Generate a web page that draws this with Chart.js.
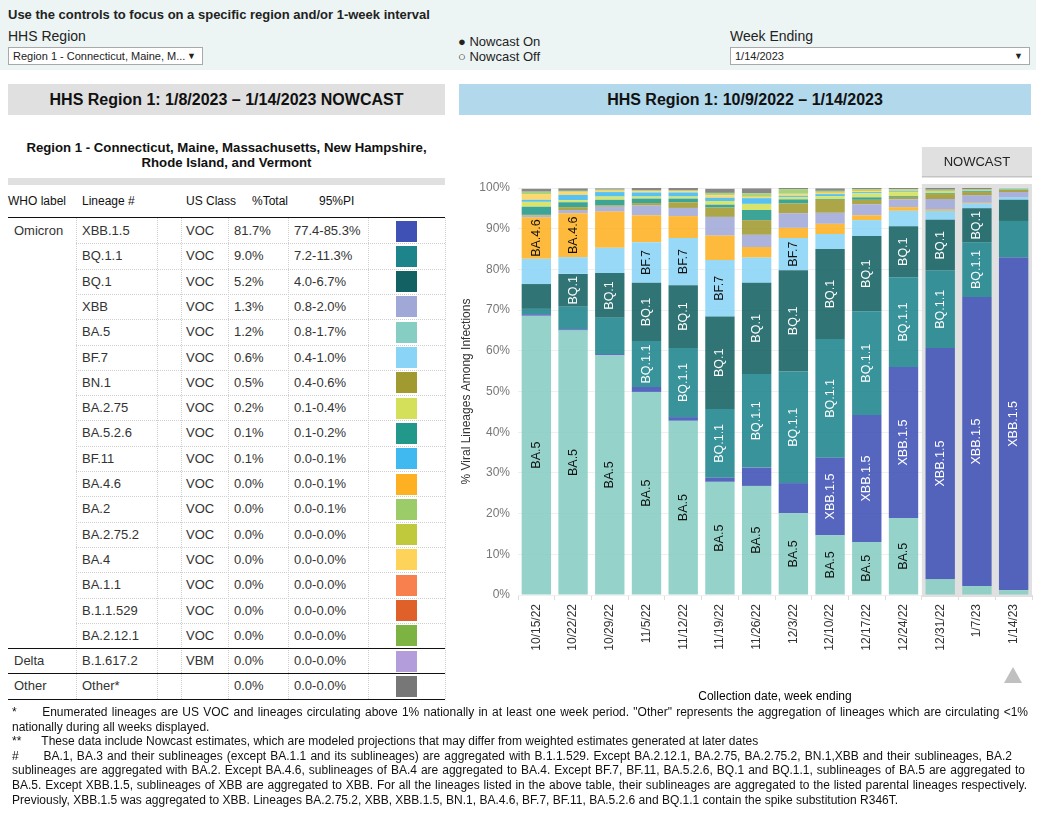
<!DOCTYPE html>
<html>
<head>
<meta charset="utf-8">
<script src="https://cdn.jsdelivr.net/npm/chart.js@4.4.0/dist/chart.umd.min.js"></script>
<style>
body{margin:0;width:1041px;height:814px;position:relative;background:#fff;font-family:Arial,"Liberation Sans",sans-serif;color:#333;overflow:hidden}
.abs{position:absolute;white-space:nowrap}
#controls{position:absolute;left:0;top:0;width:1036px;height:70px;background:#edf5f4}
.dd{position:absolute;height:18px;border:1px solid #a9a9a9;background:#fff;font-size:11px;line-height:16px;padding-left:4px;box-sizing:border-box;color:#222}
.dd span{position:absolute;right:6px;top:0;font-size:9px}
.hdr{position:absolute;top:84px;height:31px;line-height:31px;text-align:center;font-weight:bold;font-size:16px;color:#111}
.cell{position:absolute;font-size:13px;color:#333;line-height:25px;white-space:nowrap}
.vline{position:absolute;width:0;border-left:1px dotted #cfcfcf}
.hline{position:absolute;height:0;border-top:1px dotted #cfcfcf}
.bline{position:absolute;height:1px;background:#111;left:8px;width:437px}
#notes{position:absolute;left:12px;top:705px;font-size:12px;line-height:14.6px;color:#111}
#notes div{white-space:nowrap;height:14.6px}
#notes div.j{text-align:justify;text-align-last:justify;white-space:normal;overflow:hidden}
</style>
</head>
<body>
<div id="controls">
  <div class="abs" style="left:8px;top:7px;font-size:13px;font-weight:bold;color:#222">Use the controls to focus on a specific region and/or 1-week interval</div>
  <div class="abs" style="left:8px;top:28px;font-size:14px;color:#222">HHS Region</div>
  <div class="dd" style="left:8px;top:47px;width:195px">Region 1 - Connecticut, Maine, M...<span>&#9660;</span></div>
  <div class="abs" style="left:458px;top:34px;font-size:13px;color:#222">&#9679; Nowcast On</div>
  <div class="abs" style="left:458px;top:49px;font-size:13px;color:#222">&#9675; Nowcast Off</div>
  <div class="abs" style="left:730px;top:28px;font-size:14px;color:#222">Week Ending</div>
  <div class="dd" style="left:730px;top:47px;width:300px">1/14/2023<span>&#9660;</span></div>
</div>

<div class="hdr" style="left:8px;width:437px;background:#e0e0e0">HHS Region 1: 1/8/2023 &#8211; 1/14/2023 NOWCAST</div>
<div class="hdr" style="left:459px;width:572px;background:#b2d8ec">HHS Region 1: 10/9/2022 &#8211; 1/14/2023</div>

<div class="abs" style="left:8px;top:140px;width:437px;text-align:center;font-weight:bold;font-size:13.2px;line-height:15px;color:#111">Region 1 - Connecticut, Maine, Massachusetts, New Hampshire,<br>Rhode Island, and Vermont</div>
<div class="abs" style="left:8px;top:178px;width:437px;height:7px;background:#e0e0e0"></div>
<div id="table"></div>

<canvas id="myCanvas" width="583" height="570" style="position:absolute;left:455px;top:140px;width:583px;height:570px"></canvas>
<div class="abs" style="left:1004px;top:667px;width:0;height:0;border-left:9px solid transparent;border-right:9px solid transparent;border-bottom:16px solid #c0c0c0"></div>

<div id="notes">
<div class="j" style="width:1016px">*&nbsp;&nbsp;&nbsp;&nbsp;&nbsp;&nbsp;Enumerated lineages are US VOC and lineages circulating above 1% nationally in at least one week period. "Other" represents the aggregation of lineages which are circulating &lt;1%</div>
<div>nationally during all weeks displayed.</div>
<div>**&nbsp;&nbsp;&nbsp;&nbsp;&nbsp;&nbsp;These data include Nowcast estimates, which are modeled projections that may differ from weighted estimates generated at later dates</div>
<div class="j" style="width:1000px">#&nbsp;&nbsp;&nbsp;&nbsp;&nbsp;&nbsp;BA.1, BA.3 and their sublineages (except BA.1.1 and its sublineages) are aggregated with B.1.1.529. Except BA.2.12.1, BA.2.75, BA.2.75.2, BN.1,XBB and their sublineages, BA.2</div>
<div class="j" style="width:1013px">sublineages are aggregated with BA.2. Except BA.4.6, sublineages of BA.4 are aggregated to BA.4. Except BF.7, BF.11, BA.5.2.6, BQ.1 and BQ.1.1, sublineages of BA.5 are aggregated to</div>
<div class="j" style="width:1015px">BA.5. Except XBB.1.5, sublineages of XBB are aggregated to XBB. For all the lineages listed in the above table, their sublineages are aggregated to the listed parental lineages respectively.</div>
<div>Previously, XBB.1.5 was aggregated to XBB. Lineages BA.2.75.2, XBB, XBB.1.5, BN.1, BA.4.6, BF.7, BF.11, BA.5.2.6 and BQ.1.1 contain the spike substitution R346T.</div>
</div>

<script>
// ---- table data (nowcast week 1/8/2023 - 1/14/2023) ----
var tWho      = ['Omicron','','','','','','','','','','','','','','','','','Delta','Other'];
var tLineage  = ['XBB.1.5','BQ.1.1','BQ.1','XBB','BA.5','BF.7','BN.1','BA.2.75','BA.5.2.6','BF.11','BA.4.6','BA.2','BA.2.75.2','BA.4','BA.1.1','B.1.1.529','BA.2.12.1','B.1.617.2','Other*'];
var tClass    = ['VOC','VOC','VOC','VOC','VOC','VOC','VOC','VOC','VOC','VOC','VOC','VOC','VOC','VOC','VOC','VOC','VOC','VBM',''];
var tTotal    = ['81.7%','9.0%','5.2%','1.3%','1.2%','0.6%','0.5%','0.2%','0.1%','0.1%','0.0%','0.0%','0.0%','0.0%','0.0%','0.0%','0.0%','0.0%','0.0%'];
var tPI       = ['77.4-85.3%','7.2-11.3%','4.0-6.7%','0.8-2.0%','0.8-1.7%','0.4-1.0%','0.4-0.6%','0.1-0.4%','0.1-0.2%','0.0-0.1%','0.0-0.1%','0.0-0.1%','0.0-0.0%','0.0-0.0%','0.0-0.0%','0.0-0.0%','0.0-0.0%','0.0-0.0%','0.0-0.0%'];

var colors = {
  'XBB.1.5':'#3f51b5','BQ.1.1':'#1e848c','BQ.1':'#146163','XBB':'#a0a8d8','BA.5':'#86cdc3',
  'BF.7':'#8ad4f7','BN.1':'#a09a30','BA.2.75':'#d4e05a','BA.5.2.6':'#22988a','BF.11':'#40b8f0',
  'BA.4.6':'#fdb022','BA.2':'#9ccc6a','BA.2.75.2':'#c0c83c','BA.4':'#fdd35a','BA.1.1':'#f8804e',
  'B.1.1.529':'#e0602a','BA.2.12.1':'#7cb342','B.1.617.2':'#b39ddb','Other':'#777777','Other*':'#777777'
};

// ---- chart data: weekly proportions (%) ----
var weeks   = ['10/15/22','10/22/22','10/29/22','11/5/22','11/12/22','11/19/22','11/26/22','12/3/22','12/10/22','12/17/22','12/24/22','12/31/22','1/7/23','1/14/23'];
var ba5     = [68.6, 65.0, 58.9, 49.9, 42.8, 27.8, 26.8, 20.1, 14.7, 13.0, 18.9, 3.9, 2.2, 1.2];
var xbb15   = [0.4, 0.3, 0.3, 1.2, 0.9, 1.0, 4.5, 7.4, 19.0, 31.2, 37.1, 56.8, 71.0, 81.7];
var bq11    = [1.3, 5.5, 8.9, 11.3, 17.0, 16.9, 23.0, 27.4, 29.2, 25.5, 22.1, 19.0, 13.5, 9.0];
var bq1     = [6.1, 8.1, 11.0, 14.3, 15.4, 22.7, 22.4, 24.9, 22.1, 18.5, 12.5, 12.5, 8.3, 5.2];
var bf7     = [6.2, 4.1, 6.2, 10.0, 11.6, 13.9, 6.2, 7.9, 3.7, 3.9, 3.8, 2.2, 1.2, 0.6];
var ba46    = [10.2, 10.8, 8.9, 6.6, 5.4, 6.0, 2.6, 2.5, 2.5, 1.2, 0.9, 0.3, 0.2, 0.0];
var xbb     = [0.4, 0.8, 1.2, 2.4, 2.0, 4.6, 3.0, 3.6, 2.7, 2.7, 1.9, 2.6, 1.8, 1.3];
var bn1     = [0.2, 0.7, 0.3, 0.6, 1.4, 2.3, 3.6, 2.4, 3.2, 1.1, 0.6, 1.2, 0.8, 0.5];
var ba526   = [2.0, 1.2, 1.4, 1.1, 0.9, 0.7, 2.5, 1.0, 0.2, 0.6, 0.2, 0.2, 0.2, 0.1];
var ba275   = [1.2, 0.5, 0.8, 0.5, 0.5, 0.9, 1.5, 0.6, 0.7, 1.0, 1.0, 0.5, 0.2, 0.2];
var bf11    = [0.5, 1.3, 1.1, 1.0, 1.0, 0.8, 1.4, 0.3, 0.5, 0.3, 0.2, 0.1, 0.1, 0.1];
var ba4     = [1.4, 0.7, 0.3, 0.3, 0.3, 0.6, 0.3, 0.3, 0.3, 0.2, 0.1, 0.0, 0.0, 0.0];
var ba2752  = [0.0, 0.1, 0.1, 0.1, 0.1, 0.1, 0.1, 0.2, 0.2, 0.3, 0.3, 0.2, 0.1, 0.0];
var ba2     = [0.6, 0.2, 0.2, 0.1, 0.1, 0.5, 0.8, 1.1, 0.3, 0.2, 0.1, 0.1, 0.1, 0.0];
var other   = [0.7, 0.6, 0.3, 0.6, 0.6, 1.0, 1.2, 0.3, 0.6, 0.3, 0.4, 0.4, 0.3, 0.0];
var yTicks  = [0, 10, 20, 30, 40, 50, 60, 70, 80, 90, 100];
var nowcastFrom = '12/31/22';

// stack order, bottom to top
var series = [
  ['BA.5', ba5], ['XBB.1.5', xbb15], ['BQ.1.1', bq11], ['BQ.1', bq1], ['BF.7', bf7],
  ['BA.4.6', ba46], ['XBB', xbb], ['BN.1', bn1], ['BA.5.2.6', ba526], ['BA.2.75', ba275],
  ['BF.11', bf11], ['BA.4', ba4], ['BA.2.75.2', ba2752], ['BA.2', ba2], ['Other', other]
];
var whiteText = ['XBB.1.5','BQ.1.1','BQ.1'];

// build the table
var tbl = document.getElementById('table');
var html = '';
var top0 = 218, rowH = 25.3;
var nRows = tLineage.length;
var xs = [76,157,181,228,288,368,445];
xs.forEach(function(x){
  html += '<div class="vline" style="left:'+x+'px;top:'+top0+'px;height:'+(nRows*rowH)+'px"></div>';
});
for (var i=0;i<nRows;i++){
  var y = top0 + i*rowH;
  if (i>0) html += '<div class="hline" style="left:76px;width:369px;top:'+y.toFixed(1)+'px"></div>';
  html += '<div class="cell" style="left:14px;top:'+y.toFixed(1)+'px">'+tWho[i]+'</div>';
  html += '<div class="cell" style="left:82px;top:'+y.toFixed(1)+'px">'+tLineage[i]+'</div>';
  html += '<div class="cell" style="left:186px;top:'+y.toFixed(1)+'px">'+tClass[i]+'</div>';
  html += '<div class="cell" style="left:234px;top:'+y.toFixed(1)+'px">'+tTotal[i]+'</div>';
  html += '<div class="cell" style="left:294px;top:'+y.toFixed(1)+'px">'+tPI[i]+'</div>';
  html += '<div style="position:absolute;left:396px;top:'+(y+2.5).toFixed(1)+'px;width:21px;height:21px;background:'+colors[tLineage[i]]+'"></div>';
}
html += '<div class="bline" style="top:217px"></div>';
html += '<div class="bline" style="top:'+(top0+17*rowH).toFixed(1)+'px"></div>';
html += '<div class="bline" style="top:'+(top0+18*rowH).toFixed(1)+'px"></div>';
html += '<div class="bline" style="top:'+(top0+19*rowH).toFixed(1)+'px"></div>';
// header
var hdrs = [['WHO label',8],['Lineage #',82],['US Class',186],['%Total',252],['95%PI',319]];
hdrs.forEach(function(h){
  html += '<div class="cell" style="left:'+h[1]+'px;top:189px;font-size:12px;color:#111">'+h[0]+'</div>';
});
tbl.innerHTML = html;

function alpha(hex, a){
  var r=parseInt(hex.substr(1,2),16), g=parseInt(hex.substr(3,2),16), b=parseInt(hex.substr(5,2),16);
  return 'rgba('+r+','+g+','+b+','+a+')';
}

var datasets = series.map(function(s){
  return {
    label: s[0],
    data: s[1],
    backgroundColor: alpha(colors[s[0]], 0.88),
    borderWidth: 0,
    barPercentage: 0.8,
    categoryPercentage: 1.0,
    labelColor: whiteText.indexOf(s[0]) >= 0 ? '#ffffff' : '#111111'
  };
});

// grey band + NOWCAST box behind the last weeks
var nowcastBand = {
  id: 'nowcastBand',
  beforeDatasetsDraw: function(chart){
    var x = chart.scales.x, a = chart.chartArea, ctx = chart.ctx;
    var idx = weeks.indexOf(nowcastFrom);
    var half = (x.getPixelForValue(1) - x.getPixelForValue(0)) / 2;
    var left = x.getPixelForValue(idx) - half, right = a.right;
    ctx.save();
    ctx.fillStyle = '#e0e0e0';
    ctx.fillRect(left, a.top - 4, right - left, a.bottom - a.top + 6);
    ctx.fillRect(left, a.top - 41, right - left, 30);
    ctx.fillStyle = '#c4c4c4';
    ctx.fillRect(left, a.top - 12, right - left, 1.5);
    ctx.fillStyle = '#222';
    ctx.font = '13px Arial';
    ctx.textAlign = 'center';
    ctx.textBaseline = 'middle';
    ctx.fillText('NOWCAST', (left + right) / 2, a.top - 26);
    ctx.restore();
  }
};

// lineage names written inside segments that are tall enough
var barLabels = {
  id: 'barLabels',
  afterDatasetsDraw: function(chart){
    var ctx = chart.ctx;
    ctx.save();
    ctx.font = '12.5px Arial';
    ctx.textAlign = 'center';
    ctx.textBaseline = 'middle';
    chart.data.datasets.forEach(function(ds, i){
      var meta = chart.getDatasetMeta(i);
      var w = ctx.measureText(ds.label).width;
      meta.data.forEach(function(bar){
        var h = bar.base - bar.y;
        if (h > w + 2) {
          ctx.save();
          ctx.translate(bar.x, (bar.y + bar.base) / 2);
          ctx.rotate(-Math.PI / 2);
          ctx.fillStyle = ds.labelColor;
          ctx.fillText(ds.label, 0, 0);
          ctx.restore();
        }
      });
    });
    ctx.restore();
  }
};

var myChart = document.getElementById('myCanvas').getContext('2d');
var chart = new Chart(myChart, {
  type: 'bar',
  data: { labels: weeks, datasets: datasets },
  plugins: [nowcastBand, barLabels],
  options: {
    responsive: false,
    animation: false,
    layout: { padding: { top: 48, right: 6, left: 0, bottom: 0 } },
    plugins: { legend: { display: false }, tooltip: { enabled: false } },
    scales: {
      x: {
        stacked: true,
        grid: { drawOnChartArea: false, tickLength: 5, color: '#dddddd', offset: true },
        border: { display: false },
        ticks: { minRotation: 90, maxRotation: 90, color: '#333', font: { size: 12, family: 'Arial' }, padding: 4 },
        title: { display: true, text: 'Collection date, week ending', color: '#000', font: { size: 12, family: 'Arial' }, padding: { top: 4, bottom: 6 } },
        afterFit: function(s){ s.height = 115; }
      },
      y: {
        stacked: true,
        min: 0, max: 100,
        afterBuildTicks: function(s){ s.ticks = yTicks.map(function(v){ return { value: v }; }); },
        grid: { color: '#efefef', drawTicks: false },
        border: { display: false },
        ticks: { color: '#777', font: { size: 12, family: 'Arial' }, padding: 8, callback: function(v){ return v + '%'; } },
        title: { display: true, text: '% Viral Lineages Among Infections', color: '#333', font: { size: 12, family: 'Arial' }, padding: { top: 4, bottom: 2 } },
        afterFit: function(s){ s.width = 63; }
      }
    }
  }
});
</script>
</body>
</html>
